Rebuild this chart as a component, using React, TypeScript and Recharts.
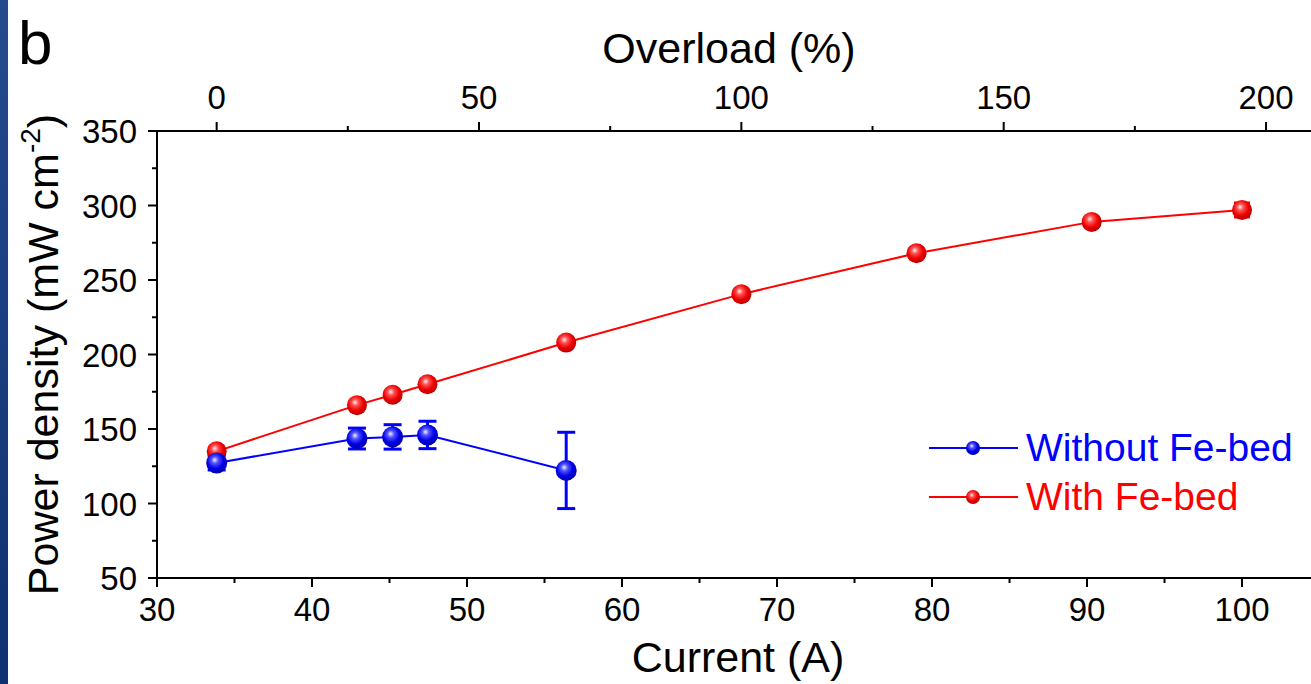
import React from 'react';
import { LineChart, Line, XAxis, YAxis, ErrorBar } from 'recharts';

const currents = [33.85, 42.9, 45.2, 47.45, 56.4, 67.7, 79.0, 90.3, 100.0];
const withFeBed = [135, 166, 173, 180, 208, 240.5, 268, 289, 297];
const withFeBedErr = [3, 3, 3, 3, 3, 3, 3, 3, 4.7];
const withoutFeBed = [127.2, 143.6, 144.7, 146, 122.2];
const withoutFeBedErr = [4.7, 7, 8.2, 9.2, 25.6];

const currentTicks = [30, 35, 40, 45, 50, 55, 60, 65, 70, 75, 80, 85, 90, 95, 100];
const overloadTicks = [0, 25, 50, 75, 100, 125, 150, 175, 200];
const powerTicks = [50, 75, 100, 125, 150, 175, 200, 225, 250, 275, 300, 325, 350];

const FONT = '"Liberation Sans", Arial, sans-serif';
const RED = '#ff0000';
const BLUE = '#0000ff';
const TICK_FS = 33;
const TITLE_FS = 43;

const redData = currents.map((c, i) => ({ current: c, power: withFeBed[i], err: withFeBedErr[i] }));
const blueData = withoutFeBed.map((v, i) => ({ current: currents[i], power: v, err: withoutFeBedErr[i] }));
const topAxisData = overloadTicks.map((o) => ({ overload: o }));

function BottomTick(props: any) {
  const { x, y, payload } = props;
  const major = payload.value % 10 === 0;
  return (
    <g>
      <line x1={x} x2={x} y1={y} y2={y + (major ? 9 : 5)} stroke="#000" strokeWidth={2} />
      {major && (
        <text x={x} y={y + 43} textAnchor="middle" fontSize={TICK_FS} fontFamily={FONT} fill="#000">
          {payload.value}
        </text>
      )}
    </g>
  );
}

function TopTick(props: any) {
  const { x, y, payload } = props;
  const major = payload.value % 50 === 0;
  return (
    <g>
      <line x1={x} x2={x} y1={y} y2={y - (major ? 9 : 5)} stroke="#000" strokeWidth={2} />
      {major && (
        <text x={x} y={y - 22} textAnchor="middle" fontSize={TICK_FS} fontFamily={FONT} fill="#000">
          {payload.value}
        </text>
      )}
    </g>
  );
}

function LeftTick(props: any) {
  const { x, y, payload } = props;
  const major = payload.value % 50 === 0;
  return (
    <g>
      <line x1={x} x2={x - (major ? 9 : 5)} y1={y} y2={y} stroke="#000" strokeWidth={2} />
      {major && (
        <text x={x - 20} y={y + 12} textAnchor="end" fontSize={TICK_FS} fontFamily={FONT} fill="#000">
          {payload.value}
        </text>
      )}
    </g>
  );
}

function sphere(id: string, r: number) {
  return (props: any) => {
    const { cx, cy, index } = props;
    if (cx == null || cy == null) return <g key={index} />;
    return <circle key={index} cx={cx} cy={cy} r={r} fill={`url(#${id})`} />;
  };
}

function BottomLabel(props: any) {
  const { viewBox } = props;
  return (
    <text x={viewBox.x + viewBox.width / 2 + 4} y={viewBox.y + 94} textAnchor="middle"
      fontSize={TITLE_FS} fontFamily={FONT} fill="#000">
      Current (A)
    </text>
  );
}

function TopLabel(props: any) {
  const { viewBox } = props;
  return (
    <text x={viewBox.x + viewBox.width / 2 - 5} y={63} textAnchor="middle"
      fontSize={TITLE_FS} fontFamily={FONT} fill="#000">
      Overload (%)
    </text>
  );
}

function LeftLabel(props: any) {
  const { viewBox } = props;
  const cy = viewBox.y + viewBox.height / 2;
  return (
    <text x={58} y={cy} transform={`rotate(-90, 58, ${cy})`} textAnchor="middle"
      fontSize={TITLE_FS} fontFamily={FONT} fill="#000">
      Power density (mW cm<tspan fontSize={28} dy={-18}>-2</tspan><tspan dy={18}>)</tspan>
    </text>
  );
}

function Gradients({ blueId, redId }: { blueId: string; redId: string }) {
  return (
    <defs>
      <radialGradient id={blueId} cx="45%" cy="40%" r="60%" fx="40%" fy="35%">
        <stop offset="0%" stopColor="#f0f0ff" />
        <stop offset="28%" stopColor="#5050ff" />
        <stop offset="65%" stopColor="#0000e6" />
        <stop offset="100%" stopColor="#0000a8" />
      </radialGradient>
      <radialGradient id={redId} cx="45%" cy="40%" r="60%" fx="40%" fy="35%">
        <stop offset="0%" stopColor="#fff0f0" />
        <stop offset="28%" stopColor="#ff5050" />
        <stop offset="65%" stopColor="#ee0000" />
        <stop offset="100%" stopColor="#b80000" />
      </radialGradient>
    </defs>
  );
}

function LegendOverlay() {
  const rows = [
    { label: 'Without Fe-bed', color: BLUE, grad: 'legBlue', y: 448 },
    { label: 'With Fe-bed', color: RED, grad: 'legRed', y: 497 },
  ];
  return (
    <svg width={1311} height={684} style={{ position: 'absolute', left: 0, top: 0, pointerEvents: 'none' }}>
      <Gradients blueId="legBlue" redId="legRed" />
      {rows.map((r) => (
        <g key={r.label}>
          <line x1={929} x2={1018} y1={r.y} y2={r.y} stroke={r.color} strokeWidth={2} />
          <circle cx={973} cy={r.y} r={7} fill={`url(#${r.grad})`} />
          <text x={1026} y={r.y + 13} fontSize={39} fontFamily={FONT} fill={r.color}>{r.label}</text>
        </g>
      ))}
    </svg>
  );
}

export default function App() {
  return (
    <div style={{ position: 'fixed', left: 0, top: 0, width: 1311, height: 684, background: '#fff', overflow: 'hidden' }}>
      <div style={{ position: 'absolute', left: 0, top: 0, width: 8, height: 684, background: 'linear-gradient(#234b8e, #10306f)' }} />
      <div style={{ position: 'absolute', left: 18, top: 12, fontFamily: FONT, fontSize: 62, lineHeight: '62px', color: '#000' }}>b</div>
      <LineChart width={1311} height={684} margin={{ top: 0, right: 0, bottom: 0, left: 0 }}>
        <Gradients blueId="gBlue" redId="gRed" />
        <XAxis
          xAxisId="bottom"
          dataKey="current"
          type="number"
          orientation="bottom"
          domain={[30, 104.45]}
          allowDataOverflow
          ticks={currentTicks}
          interval={0}
          height={106}
          tickSize={0}
          tickMargin={0}
          tickLine={false}
          tick={<BottomTick />}
          axisLine={{ stroke: '#000', strokeWidth: 2 }}
          label={<BottomLabel />}
        />
        <XAxis
          xAxisId="top"
          dataKey="overload"
          type="number"
          orientation="top"
          domain={[-11.37, 208.57]}
          allowDataOverflow
          ticks={overloadTicks}
          interval={0}
          height={131}
          tickSize={0}
          tickMargin={0}
          tickLine={false}
          tick={<TopTick />}
          axisLine={{ stroke: '#000', strokeWidth: 2 }}
          label={<TopLabel />}
        />
        <YAxis
          type="number"
          domain={[50, 350]}
          allowDataOverflow
          ticks={powerTicks}
          interval={0}
          width={157}
          tickSize={0}
          tickMargin={0}
          tickLine={false}
          tick={<LeftTick />}
          axisLine={{ stroke: '#000', strokeWidth: 2 }}
          label={<LeftLabel />}
        />
        <Line
          xAxisId="top"
          data={topAxisData}
          dataKey="none"
          stroke="none"
          dot={false}
          activeDot={false}
          legendType="none"
          isAnimationActive={false}
        />
        <Line
          xAxisId="bottom"
          data={redData}
          dataKey="power"
          name="With Fe-bed"
          stroke={RED}
          strokeWidth={2}
          dot={sphere('gRed', 10)}
          activeDot={false}
          isAnimationActive={false}
        >
          <ErrorBar dataKey="err" width={8} strokeWidth={3} stroke={RED} direction="y" isAnimationActive={false} />
        </Line>
        <Line
          xAxisId="bottom"
          data={blueData}
          dataKey="power"
          name="Without Fe-bed"
          stroke={BLUE}
          strokeWidth={2}
          dot={sphere('gBlue', 10.5)}
          activeDot={false}
          isAnimationActive={false}
        >
          <ErrorBar dataKey="err" width={9} strokeWidth={3} stroke={BLUE} direction="y" isAnimationActive={false} />
        </Line>
      </LineChart>
      <LegendOverlay />
    </div>
  );
}
